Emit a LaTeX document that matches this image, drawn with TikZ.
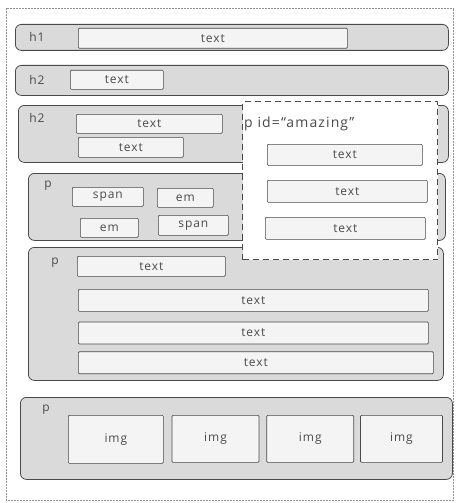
\documentclass[tikz,border=0pt]{standalone}
\usepackage{fontspec}
\setmainfont[LetterSpace=8]{Open Sans}
\usetikzlibrary{positioning}
\definecolor{bandfill}{HTML}{DADADA}
\definecolor{boxfill}{HTML}{F4F4F4}
\definecolor{inkgray}{HTML}{4A4A4A}
\begin{document}
\begin{tikzpicture}[x=1pt,y=-1pt,inner sep=0pt,node distance=8pt]
       \tikzstyle{band}=[draw=inkgray, fill=bandfill, line width=0.8pt, rounded corners=6pt, anchor=north west]
       \tikzstyle{box}=[draw=inkgray, fill=boxfill, line width=0.7pt, rounded corners=1pt, anchor=north west, text=inkgray, font=\fontsize{12}{14}\selectfont]
       \tikzstyle{tag}=[text=inkgray, font=\fontsize{12}{14}\selectfont]

       \useasboundingbox (0,0) rectangle (458,503);
       \draw[inkgray!60, densely dotted, line width=0.5pt] (6,8) rectangle (453,500);

       \node[band, minimum width=433pt, minimum height=26pt] (b_h1)  at (15,24)  {};
       \node[band, minimum width=433pt, minimum height=30pt] (b_h2)  at (15,65)  {};
       \node[band, minimum width=430pt, minimum height=57pt] (b_h2b) at (18,105) {};
       \node[band, minimum width=417pt, minimum height=67pt] (b_pa)  at (28,173) {};
       \node[band, minimum width=415pt, minimum height=133pt] (b_pb) at (28,247) {};
       \node[band, minimum width=432pt, minimum height=82pt] (b_pc)  at (20,397) {};

       \node[draw=inkgray, dash pattern=on 6pt off 4pt, line width=1.2pt, fill=white, anchor=north west,
             minimum width=195pt, minimum height=158pt] (amazing) at (242,101) {};
       \node[tag, anchor=west, font=\fontsize{14}{16}\selectfont] (l_amazing) at (244,124) {p id=``amazing''};

       \node[tag] (l_h1)  at (37,37)  {h1};
       \node[tag] (l_h2)  at (37,80)  {h2};
       \node[tag] (l_h2b) at (37,118) {h2};
       \node[tag] (l_pa)  at (48,186) {p};
       \node[tag] (l_pb)  at (55,263) {p};
       \node[tag] (l_pc)  at (46,410) {p};

       \node[box, minimum width=269pt, minimum height=20pt] (t_1) at (78,28)  {text};
       \node[box, minimum width=93pt,  minimum height=19pt] (t_2) at (70,70)  {text};
       \node[box, minimum width=146pt, minimum height=19pt] (t_3) at (76,114) {text};
       \node[box, minimum width=105pt, minimum height=20pt] (t_4) at (78,137) {text};

       \node[box, minimum width=155pt, minimum height=21pt] (a_1) at (267,144) {text};
       \node[box, minimum width=160pt, minimum height=22pt] (a_2) at (267,180) {text};
       \node[box, minimum width=160pt, minimum height=22pt] (a_3) at (265,217) {text};

       \node[box, minimum width=71pt, minimum height=19pt] (s_1) at (72,187)  {span};
       \node[box, minimum width=56pt, minimum height=19pt] (e_1) at (157,188) {em};
       \node[box, minimum width=58pt, minimum height=19pt] (e_2) at (80,218)  {em};
       \node[box, minimum width=70pt, minimum height=20pt] (s_2) at (158,215) {span};

       \node[box, minimum width=148pt, minimum height=20pt] (p_1) at (77,256) {text};
       \node[box, minimum width=350pt, minimum height=22pt] (p_2) at (78,289) {text};
       \node[box, minimum width=350pt, minimum height=22pt] (p_3) [below=10pt of p_2.south west, anchor=north west] {text};
       \node[box, minimum width=355pt, minimum height=22pt] (p_4) [below=7pt of p_3.south west, anchor=north west] {text};

       \node[box, minimum width=95pt, minimum height=48pt] (img_1) at (68,415) {img};
       \node[box, minimum width=87pt, minimum height=47pt] (img_2) [right=8pt of img_1.north east, anchor=north west] {img};
       \node[box, minimum width=87pt, minimum height=47pt] (img_3) [right=7pt of img_2.north east, anchor=north west] {img};
       \node[box, minimum width=82pt, minimum height=47pt] (img_4) [right=6pt of img_3.north east, anchor=north west] {img};
     \end{tikzpicture}
\end{document}
